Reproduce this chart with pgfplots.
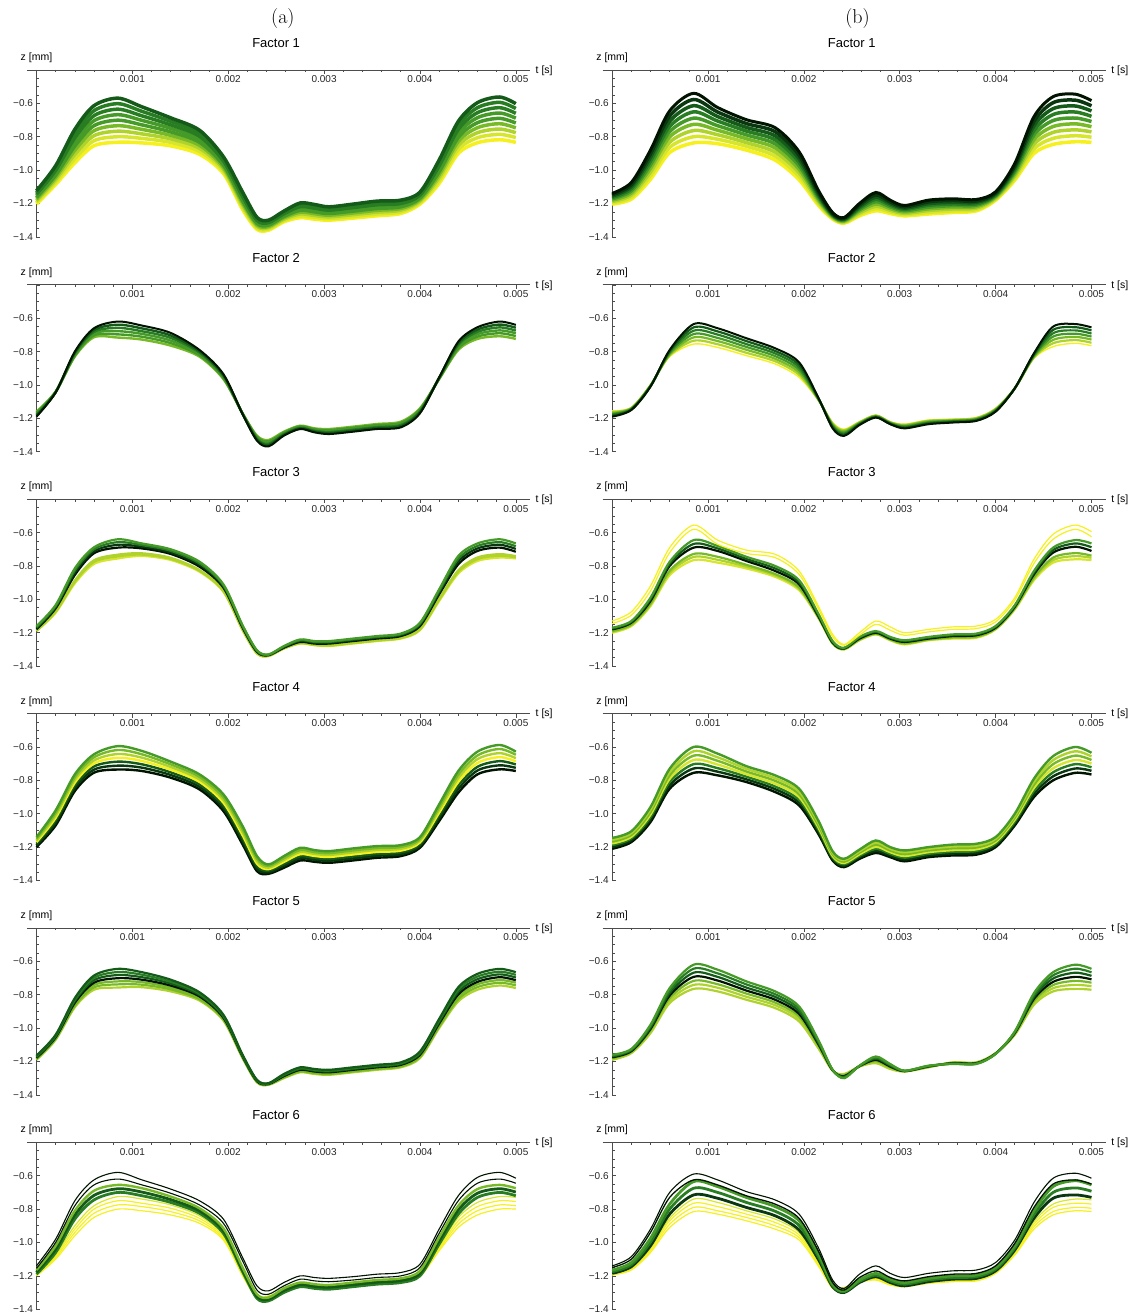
\documentclass[border=0pt]{standalone}
\usepackage{fontspec}
\setsansfont{Liberation Sans}
\usepackage{pgfplots}
\usepackage{pgfplotstable}
\pgfplotsset{compat=1.18}

\definecolor{Y0}{RGB}{245,240,30}
\definecolor{YG1}{RGB}{215,230,45}
\definecolor{YG}{RGB}{175,210,45}
\definecolor{LG}{RGB}{120,185,40}
\definecolor{G}{RGB}{70,155,40}
\definecolor{MG}{RGB}{40,125,35}
\definecolor{DG}{RGB}{20,90,25}
\definecolor{VDG}{RGB}{10,55,15}
\definecolor{BK}{RGB}{0,20,0}

\pgfplotsset{
  panel/.style={
    scale only axis, width=494pt, height=167pt,
    xmin=0, xmax=5.15, ymin=-1.4, ymax=-0.4,
    axis x line*=top, axis y line*=left,
    axis line style={line width=0.7pt, black!70},
    xtick={0,1,2,3,4,5},
    xticklabels={,0.001,0.002,0.003,0.004,0.005},
    minor x tick num=4,
    ytick={-1.4,-1.2,-1.0,-0.8,-0.6,-0.4},
    yticklabels={−1.4,−1.2,−1.0,−0.8,−0.6,},
    minor y tick num=3,
    tick align=inside,
    major tick length=4pt, minor tick length=2.5pt,
    tick style={black!70, line width=0.6pt},
    tick label style={font=\sffamily\fontsize{10}{12}\selectfont, text=black!85},
    xticklabel style={anchor=north, yshift=-2.5pt},
    clip=false,
    title style={at={(axis description cs:0.4854,1)}, anchor=base, yshift=16.5pt, font=\sffamily\fontsize{13}{15}\selectfont},
    after end axis/.code={
      \draw[line width=0.7pt, black!70] (axis cs:-0.1,-0.4) -- (axis cs:0,-0.4);
      \node[anchor=base, yshift=9.5pt, font=\sffamily\fontsize{10.5}{12}\selectfont] at (axis cs:0,-0.4) {z [mm]};
      \node[anchor=west, xshift=2pt, yshift=-0.5pt, font=\sffamily\fontsize{10.5}{12}\selectfont] at (axis cs:5.15,-0.4) {t [s]};
    },
  },
  cv/.style={smooth, tension=0.5, line width=2.2pt},
}
\newcommand{\pl}[3]{\addplot[cv,#1] table[x=t,y=#2]{#3};}

% ---------- Factor 1 (a)
\pgfplotstableread{
t c0 c1 c2 c3 c4 c5 c6 c7 c8
0 -1.204 -1.194 -1.184 -1.174 -1.164 -1.154 -1.144 -1.134 -1.124
0.2 -1.086 -1.072 -1.058 -1.044 -1.030 -1.016 -1.002 -0.988 -0.974
0.4 -0.956 -0.931 -0.906 -0.881 -0.856 -0.831 -0.806 -0.781 -0.756
0.6 -0.854 -0.824 -0.794 -0.764 -0.734 -0.704 -0.674 -0.644 -0.614
0.85 -0.833 -0.800 -0.767 -0.734 -0.701 -0.668 -0.635 -0.602 -0.569
1.1 -0.837 -0.810 -0.783 -0.756 -0.729 -0.702 -0.675 -0.648 -0.621
1.4 -0.855 -0.834 -0.813 -0.792 -0.771 -0.750 -0.729 -0.708 -0.687
1.7 -0.905 -0.887 -0.869 -0.851 -0.833 -0.815 -0.797 -0.779 -0.761
1.95 -1.020 -1.008 -0.995 -0.983 -0.970 -0.958 -0.945 -0.933 -0.920
2.15 -1.236 -1.223 -1.210 -1.197 -1.184 -1.171 -1.158 -1.145 -1.132
2.3 -1.355 -1.346 -1.337 -1.328 -1.319 -1.310 -1.301 -1.292 -1.283
2.42 -1.360 -1.353 -1.345 -1.338 -1.330 -1.323 -1.315 -1.308 -1.300
2.58 -1.310 -1.302 -1.294 -1.286 -1.278 -1.270 -1.262 -1.254 -1.246
2.75 -1.285 -1.274 -1.263 -1.252 -1.241 -1.230 -1.219 -1.208 -1.197
2.9 -1.294 -1.283 -1.272 -1.261 -1.250 -1.239 -1.228 -1.217 -1.206
3.05 -1.300 -1.290 -1.280 -1.270 -1.260 -1.250 -1.240 -1.230 -1.220
3.3 -1.288 -1.278 -1.267 -1.257 -1.246 -1.236 -1.225 -1.215 -1.204
3.55 -1.274 -1.263 -1.252 -1.241 -1.230 -1.219 -1.208 -1.197 -1.186
3.8 -1.260 -1.250 -1.240 -1.230 -1.220 -1.210 -1.200 -1.190 -1.180
4.0 -1.204 -1.195 -1.186 -1.177 -1.168 -1.159 -1.150 -1.141 -1.132
4.2 -1.080 -1.063 -1.045 -1.028 -1.010 -0.993 -0.975 -0.958 -0.940
4.4 -0.900 -0.876 -0.852 -0.828 -0.804 -0.780 -0.756 -0.732 -0.708
4.6 -0.836 -0.806 -0.776 -0.746 -0.716 -0.686 -0.656 -0.626 -0.596
4.83 -0.818 -0.786 -0.754 -0.722 -0.690 -0.658 -0.626 -0.594 -0.562
5.0 -0.834 -0.805 -0.776 -0.747 -0.718 -0.689 -0.660 -0.631 -0.602
}\TAa
% ---------- Factor 1 (b)
\pgfplotstableread{
t c0 c1 c2 c3 c4 c5 c6 c7 c8
0 -1.204 -1.196 -1.188 -1.180 -1.172 -1.164 -1.156 -1.148 -1.140
0.2 -1.174 -1.162 -1.149 -1.137 -1.124 -1.112 -1.099 -1.087 -1.074
0.4 -1.055 -1.033 -1.011 -0.989 -0.968 -0.946 -0.924 -0.902 -0.880
0.6 -0.895 -0.864 -0.833 -0.801 -0.770 -0.739 -0.708 -0.676 -0.645
0.85 -0.837 -0.800 -0.763 -0.726 -0.689 -0.651 -0.614 -0.577 -0.540
1.1 -0.842 -0.815 -0.788 -0.761 -0.734 -0.706 -0.679 -0.652 -0.625
1.4 -0.880 -0.857 -0.835 -0.812 -0.789 -0.766 -0.744 -0.721 -0.698
1.7 -0.940 -0.916 -0.892 -0.867 -0.843 -0.819 -0.795 -0.770 -0.746
1.95 -1.058 -1.037 -1.016 -0.995 -0.974 -0.953 -0.932 -0.911 -0.890
2.15 -1.210 -1.199 -1.188 -1.176 -1.165 -1.154 -1.143 -1.131 -1.120
2.3 -1.293 -1.288 -1.284 -1.279 -1.274 -1.269 -1.265 -1.260 -1.255
2.42 -1.318 -1.314 -1.310 -1.305 -1.301 -1.297 -1.293 -1.288 -1.284
2.58 -1.274 -1.265 -1.256 -1.246 -1.237 -1.228 -1.219 -1.209 -1.200
2.75 -1.244 -1.230 -1.217 -1.203 -1.189 -1.175 -1.162 -1.148 -1.134
2.9 -1.260 -1.250 -1.240 -1.230 -1.220 -1.210 -1.200 -1.190 -1.180
3.05 -1.274 -1.266 -1.259 -1.251 -1.243 -1.235 -1.228 -1.220 -1.212
3.3 -1.263 -1.253 -1.242 -1.232 -1.222 -1.211 -1.201 -1.190 -1.180
3.55 -1.254 -1.244 -1.233 -1.223 -1.213 -1.203 -1.193 -1.182 -1.172
3.8 -1.244 -1.236 -1.227 -1.219 -1.210 -1.202 -1.193 -1.185 -1.176
4.0 -1.180 -1.174 -1.168 -1.161 -1.155 -1.149 -1.143 -1.136 -1.130
4.2 -1.060 -1.048 -1.035 -1.023 -1.010 -0.998 -0.985 -0.973 -0.960
4.4 -0.900 -0.873 -0.845 -0.818 -0.790 -0.763 -0.735 -0.708 -0.680
4.6 -0.846 -0.810 -0.774 -0.739 -0.703 -0.667 -0.632 -0.596 -0.560
4.83 -0.830 -0.794 -0.759 -0.723 -0.688 -0.652 -0.616 -0.581 -0.545
5.0 -0.834 -0.803 -0.771 -0.740 -0.709 -0.678 -0.646 -0.615 -0.584
}\TAb
% ---------- Factor 2 (a)
\pgfplotstableread{
t c0 c1 c2 c3 c4 c5
0 -1.160 -1.166 -1.172 -1.178 -1.184 -1.190
0.2 -1.040 -1.041 -1.042 -1.043 -1.044 -1.045
0.4 -0.830 -0.824 -0.818 -0.812 -0.806 -0.800
0.6 -0.714 -0.703 -0.692 -0.682 -0.671 -0.660
0.85 -0.716 -0.697 -0.678 -0.658 -0.639 -0.620
1.1 -0.728 -0.711 -0.694 -0.678 -0.661 -0.644
1.4 -0.764 -0.749 -0.734 -0.718 -0.703 -0.688
1.7 -0.830 -0.822 -0.814 -0.806 -0.798 -0.790
1.95 -0.965 -0.959 -0.953 -0.947 -0.941 -0.935
2.15 -1.170 -1.171 -1.172 -1.173 -1.174 -1.175
2.3 -1.304 -1.310 -1.316 -1.322 -1.328 -1.334
2.42 -1.330 -1.338 -1.345 -1.353 -1.360 -1.368
2.58 -1.280 -1.285 -1.290 -1.294 -1.299 -1.304
2.75 -1.244 -1.248 -1.252 -1.256 -1.260 -1.264
2.9 -1.260 -1.265 -1.270 -1.274 -1.279 -1.284
3.05 -1.264 -1.270 -1.276 -1.282 -1.288 -1.294
3.3 -1.250 -1.256 -1.262 -1.268 -1.274 -1.280
3.55 -1.234 -1.240 -1.246 -1.252 -1.258 -1.264
3.8 -1.220 -1.227 -1.234 -1.240 -1.247 -1.254
4.0 -1.140 -1.146 -1.152 -1.158 -1.164 -1.170
4.2 -0.965 -0.963 -0.961 -0.959 -0.957 -0.955
4.4 -0.790 -0.780 -0.770 -0.760 -0.750 -0.740
4.6 -0.724 -0.710 -0.696 -0.682 -0.668 -0.654
4.83 -0.708 -0.690 -0.673 -0.655 -0.638 -0.620
5.0 -0.724 -0.707 -0.690 -0.674 -0.657 -0.640
}\TBa
% ---------- Factor 2 (b)
\pgfplotstableread{
t c0 c1 c2 c3 c4 c5 c6
0 -1.155 -1.161 -1.167 -1.173 -1.178 -1.184 -1.190
0.2 -1.135 -1.138 -1.140 -1.143 -1.145 -1.148 -1.150
0.4 -1.000 -1.002 -1.003 -1.005 -1.007 -1.008 -1.010
0.6 -0.830 -0.823 -0.817 -0.810 -0.803 -0.797 -0.790
0.85 -0.755 -0.735 -0.715 -0.695 -0.675 -0.655 -0.635
1.1 -0.775 -0.756 -0.737 -0.718 -0.698 -0.679 -0.660
1.4 -0.824 -0.807 -0.789 -0.772 -0.755 -0.737 -0.720
1.7 -0.874 -0.858 -0.843 -0.827 -0.811 -0.796 -0.780
1.95 -0.954 -0.939 -0.924 -0.909 -0.894 -0.879 -0.864
2.15 -1.090 -1.088 -1.085 -1.083 -1.080 -1.078 -1.075
2.3 -1.225 -1.231 -1.237 -1.243 -1.248 -1.254 -1.260
2.42 -1.265 -1.272 -1.278 -1.285 -1.292 -1.298 -1.305
2.58 -1.220 -1.223 -1.227 -1.230 -1.233 -1.237 -1.240
2.75 -1.180 -1.183 -1.185 -1.188 -1.190 -1.193 -1.195
2.9 -1.220 -1.223 -1.225 -1.228 -1.230 -1.233 -1.235
3.05 -1.235 -1.239 -1.243 -1.248 -1.252 -1.256 -1.260
3.3 -1.210 -1.214 -1.218 -1.223 -1.227 -1.231 -1.235
3.55 -1.205 -1.208 -1.212 -1.215 -1.218 -1.222 -1.225
3.8 -1.195 -1.198 -1.202 -1.205 -1.208 -1.212 -1.215
4.0 -1.140 -1.143 -1.147 -1.150 -1.153 -1.157 -1.160
4.2 -1.020 -1.020 -1.020 -1.020 -1.020 -1.020 -1.020
4.4 -0.840 -0.835 -0.830 -0.825 -0.820 -0.815 -0.810
4.6 -0.770 -0.750 -0.730 -0.710 -0.690 -0.670 -0.650
4.83 -0.750 -0.731 -0.712 -0.693 -0.673 -0.654 -0.635
5.0 -0.765 -0.747 -0.728 -0.710 -0.692 -0.673 -0.655
}\TBb
% ---------- Factor 3 (a)
\pgfplotstableread{
t c0 c1 c2 c3 c4 c5 c6
0 -1.190 -1.188 -1.187 -1.180 -1.173 -1.167 -1.160
0.2 -1.080 -1.075 -1.071 -1.054 -1.047 -1.041 -1.034
0.4 -0.904 -0.895 -0.887 -0.854 -0.841 -0.827 -0.814
0.6 -0.788 -0.776 -0.766 -0.724 -0.712 -0.700 -0.688
0.85 -0.755 -0.743 -0.732 -0.690 -0.673 -0.657 -0.640
1.1 -0.740 -0.732 -0.724 -0.695 -0.685 -0.675 -0.665
1.4 -0.764 -0.758 -0.751 -0.728 -0.719 -0.709 -0.700
1.7 -0.834 -0.829 -0.824 -0.804 -0.794 -0.784 -0.774
1.95 -0.955 -0.951 -0.946 -0.930 -0.923 -0.917 -0.910
2.15 -1.185 -1.182 -1.180 -1.170 -1.165 -1.160 -1.155
2.3 -1.325 -1.323 -1.322 -1.315 -1.312 -1.308 -1.305
2.42 -1.340 -1.339 -1.338 -1.335 -1.333 -1.332 -1.330
2.58 -1.295 -1.294 -1.293 -1.290 -1.287 -1.283 -1.280
2.75 -1.265 -1.263 -1.262 -1.255 -1.250 -1.245 -1.240
2.9 -1.275 -1.273 -1.272 -1.265 -1.260 -1.255 -1.250
3.05 -1.280 -1.277 -1.275 -1.265 -1.260 -1.255 -1.250
3.3 -1.265 -1.262 -1.260 -1.250 -1.245 -1.240 -1.235
3.55 -1.250 -1.247 -1.245 -1.235 -1.230 -1.225 -1.220
3.8 -1.235 -1.232 -1.230 -1.220 -1.215 -1.210 -1.205
4.0 -1.185 -1.181 -1.176 -1.160 -1.153 -1.147 -1.140
4.2 -1.010 -1.003 -0.996 -0.970 -0.960 -0.950 -0.940
4.4 -0.845 -0.835 -0.826 -0.790 -0.773 -0.757 -0.740
4.6 -0.770 -0.759 -0.749 -0.710 -0.695 -0.680 -0.665
4.83 -0.750 -0.739 -0.729 -0.690 -0.673 -0.657 -0.640
5.0 -0.755 -0.748 -0.741 -0.715 -0.698 -0.682 -0.665
}\TCa
% ---------- Factor 3 (b)
\pgfplotstableread{
t c0 c1 c2 c3 c4 c5 c6 c7
0 -1.200 -1.195 -1.190 -1.180 -1.175 -1.170 -1.145 -1.130
0.2 -1.160 -1.155 -1.150 -1.140 -1.135 -1.130 -1.095 -1.075
0.4 -1.040 -1.033 -1.025 -1.010 -1.000 -0.990 -0.950 -0.920
0.6 -0.855 -0.841 -0.828 -0.800 -0.788 -0.775 -0.720 -0.690
0.85 -0.765 -0.746 -0.728 -0.690 -0.668 -0.645 -0.580 -0.555
1.1 -0.780 -0.763 -0.745 -0.710 -0.695 -0.680 -0.670 -0.645
1.4 -0.815 -0.804 -0.793 -0.770 -0.758 -0.745 -0.725 -0.705
1.7 -0.865 -0.856 -0.848 -0.830 -0.815 -0.800 -0.750 -0.730
1.95 -0.945 -0.936 -0.928 -0.910 -0.898 -0.885 -0.850 -0.830
2.15 -1.110 -1.108 -1.105 -1.100 -1.093 -1.085 -1.055 -1.040
2.3 -1.265 -1.264 -1.263 -1.260 -1.255 -1.250 -1.225 -1.210
2.42 -1.300 -1.299 -1.298 -1.295 -1.293 -1.290 -1.275 -1.270
2.58 -1.245 -1.243 -1.240 -1.235 -1.230 -1.225 -1.215 -1.200
2.75 -1.210 -1.208 -1.205 -1.200 -1.195 -1.190 -1.150 -1.130
2.9 -1.245 -1.243 -1.240 -1.235 -1.230 -1.225 -1.185 -1.165
3.05 -1.270 -1.266 -1.263 -1.255 -1.250 -1.245 -1.215 -1.200
3.3 -1.245 -1.243 -1.240 -1.235 -1.230 -1.225 -1.195 -1.180
3.55 -1.235 -1.231 -1.228 -1.220 -1.215 -1.210 -1.180 -1.165
3.8 -1.230 -1.226 -1.223 -1.215 -1.210 -1.205 -1.175 -1.160
4.0 -1.180 -1.178 -1.175 -1.170 -1.165 -1.160 -1.135 -1.120
4.2 -1.060 -1.056 -1.053 -1.045 -1.040 -1.035 -1.005 -0.990
4.4 -0.885 -0.876 -0.868 -0.850 -0.840 -0.830 -0.785 -0.760
4.6 -0.780 -0.765 -0.750 -0.720 -0.705 -0.690 -0.640 -0.610
4.83 -0.760 -0.741 -0.723 -0.685 -0.665 -0.645 -0.580 -0.555
5.0 -0.765 -0.751 -0.738 -0.710 -0.688 -0.665 -0.625 -0.595
}\TCb
% ---------- Factor 4 (a)
\pgfplotstableread{
t c0 c1 c2 c3 c4 c5 c6
0 -1.200 -1.190 -1.180 -1.170 -1.160 -1.150 -1.140
0.2 -1.070 -1.055 -1.040 -1.025 -1.010 -0.995 -0.980
0.4 -0.864 -0.847 -0.831 -0.814 -0.797 -0.781 -0.764
0.6 -0.754 -0.736 -0.717 -0.699 -0.681 -0.662 -0.644
0.85 -0.735 -0.712 -0.688 -0.665 -0.642 -0.618 -0.595
1.1 -0.744 -0.724 -0.704 -0.684 -0.664 -0.644 -0.624
1.4 -0.784 -0.768 -0.752 -0.736 -0.720 -0.704 -0.688
1.7 -0.854 -0.839 -0.824 -0.809 -0.794 -0.779 -0.764
1.95 -0.984 -0.967 -0.951 -0.934 -0.917 -0.901 -0.884
2.15 -1.184 -1.166 -1.147 -1.129 -1.111 -1.092 -1.074
2.3 -1.344 -1.329 -1.314 -1.299 -1.284 -1.269 -1.254
2.42 -1.360 -1.351 -1.341 -1.332 -1.323 -1.313 -1.304
2.58 -1.324 -1.312 -1.301 -1.289 -1.277 -1.266 -1.254
2.75 -1.280 -1.267 -1.255 -1.242 -1.229 -1.217 -1.204
2.9 -1.288 -1.276 -1.265 -1.253 -1.241 -1.230 -1.218
3.05 -1.294 -1.282 -1.271 -1.259 -1.247 -1.236 -1.224
3.3 -1.280 -1.268 -1.256 -1.244 -1.232 -1.220 -1.208
3.55 -1.264 -1.252 -1.241 -1.229 -1.217 -1.206 -1.194
3.8 -1.254 -1.243 -1.232 -1.221 -1.210 -1.199 -1.188
4.0 -1.204 -1.193 -1.183 -1.172 -1.161 -1.151 -1.140
4.2 -1.044 -1.027 -1.011 -0.994 -0.977 -0.961 -0.944
4.4 -0.874 -0.852 -0.831 -0.809 -0.787 -0.766 -0.744
4.6 -0.764 -0.741 -0.719 -0.696 -0.673 -0.651 -0.628
4.83 -0.734 -0.710 -0.685 -0.661 -0.637 -0.612 -0.588
5.0 -0.744 -0.725 -0.705 -0.686 -0.667 -0.647 -0.628
}\TDa
% ---------- Factor 4 (b)
\pgfplotstableread{
t c0 c1 c2 c3 c4 c5 c6
0 -1.210 -1.199 -1.188 -1.178 -1.167 -1.156 -1.145
0.2 -1.170 -1.159 -1.148 -1.138 -1.127 -1.116 -1.105
0.4 -1.050 -1.035 -1.020 -1.005 -0.990 -0.975 -0.960
0.6 -0.850 -0.830 -0.810 -0.790 -0.770 -0.750 -0.730
0.85 -0.755 -0.729 -0.703 -0.678 -0.652 -0.626 -0.600
1.1 -0.770 -0.748 -0.727 -0.705 -0.683 -0.662 -0.640
1.4 -0.810 -0.794 -0.778 -0.763 -0.747 -0.731 -0.715
1.7 -0.870 -0.853 -0.837 -0.820 -0.803 -0.787 -0.770
1.95 -0.950 -0.933 -0.917 -0.900 -0.883 -0.867 -0.850
2.15 -1.120 -1.107 -1.093 -1.080 -1.067 -1.053 -1.040
2.3 -1.280 -1.271 -1.262 -1.253 -1.243 -1.234 -1.225
2.42 -1.320 -1.312 -1.303 -1.295 -1.287 -1.278 -1.270
2.58 -1.270 -1.261 -1.252 -1.243 -1.233 -1.224 -1.215
2.75 -1.235 -1.223 -1.210 -1.198 -1.185 -1.173 -1.160
2.9 -1.260 -1.250 -1.240 -1.230 -1.220 -1.210 -1.200
3.05 -1.285 -1.274 -1.263 -1.253 -1.242 -1.231 -1.220
3.3 -1.260 -1.250 -1.240 -1.230 -1.220 -1.210 -1.200
3.55 -1.250 -1.239 -1.228 -1.218 -1.207 -1.196 -1.185
3.8 -1.245 -1.234 -1.223 -1.213 -1.202 -1.191 -1.180
4.0 -1.200 -1.190 -1.180 -1.170 -1.160 -1.150 -1.140
4.2 -1.070 -1.058 -1.047 -1.035 -1.023 -1.012 -1.000
4.4 -0.900 -0.882 -0.863 -0.845 -0.827 -0.808 -0.790
4.6 -0.800 -0.776 -0.752 -0.728 -0.703 -0.679 -0.655
4.83 -0.755 -0.729 -0.703 -0.678 -0.652 -0.626 -0.600
5.0 -0.765 -0.743 -0.722 -0.700 -0.678 -0.657 -0.635
}\TDb
% ---------- Factor 5 (a)
\pgfplotstableread{
t c0 c1 c2 c3 c4 c5 c6
0 -1.190 -1.186 -1.182 -1.178 -1.173 -1.169 -1.165
0.2 -1.070 -1.065 -1.060 -1.055 -1.050 -1.045 -1.040
0.4 -0.875 -0.866 -0.857 -0.848 -0.838 -0.829 -0.820
0.6 -0.770 -0.756 -0.742 -0.728 -0.713 -0.699 -0.685
0.85 -0.757 -0.738 -0.720 -0.701 -0.682 -0.664 -0.645
1.1 -0.755 -0.740 -0.725 -0.710 -0.695 -0.680 -0.665
1.4 -0.780 -0.768 -0.757 -0.745 -0.733 -0.722 -0.710
1.7 -0.835 -0.827 -0.818 -0.810 -0.802 -0.793 -0.785
1.95 -0.955 -0.949 -0.943 -0.938 -0.932 -0.926 -0.920
2.15 -1.180 -1.177 -1.173 -1.170 -1.167 -1.163 -1.160
2.3 -1.325 -1.323 -1.320 -1.318 -1.315 -1.313 -1.310
2.42 -1.340 -1.338 -1.337 -1.335 -1.333 -1.332 -1.330
2.58 -1.300 -1.296 -1.292 -1.288 -1.283 -1.279 -1.275
2.75 -1.265 -1.260 -1.255 -1.250 -1.245 -1.240 -1.235
2.9 -1.275 -1.270 -1.265 -1.260 -1.255 -1.250 -1.245
3.05 -1.280 -1.275 -1.270 -1.265 -1.260 -1.255 -1.250
3.3 -1.265 -1.260 -1.255 -1.250 -1.245 -1.240 -1.235
3.55 -1.250 -1.245 -1.240 -1.235 -1.230 -1.225 -1.220
3.8 -1.235 -1.230 -1.225 -1.220 -1.215 -1.210 -1.205
4.0 -1.180 -1.173 -1.167 -1.160 -1.153 -1.147 -1.140
4.2 -1.000 -0.991 -0.982 -0.973 -0.963 -0.954 -0.945
4.4 -0.840 -0.826 -0.812 -0.798 -0.783 -0.769 -0.755
4.6 -0.770 -0.754 -0.738 -0.723 -0.707 -0.691 -0.675
4.83 -0.745 -0.728 -0.712 -0.695 -0.678 -0.662 -0.645
5.0 -0.760 -0.744 -0.728 -0.713 -0.697 -0.681 -0.665
}\TEa
% ---------- Factor 5 (b)
\pgfplotstableread{
t c0 c1 c2 c3 c4 c5 c6
0 -1.190 -1.185 -1.180 -1.175 -1.170 -1.165 -1.160
0.2 -1.150 -1.146 -1.142 -1.138 -1.133 -1.129 -1.125
0.4 -1.030 -1.022 -1.013 -1.005 -0.997 -0.988 -0.980
0.6 -0.850 -0.835 -0.820 -0.805 -0.790 -0.775 -0.760
0.85 -0.765 -0.741 -0.717 -0.693 -0.668 -0.644 -0.620
1.1 -0.780 -0.758 -0.737 -0.715 -0.693 -0.672 -0.650
1.4 -0.830 -0.812 -0.793 -0.775 -0.757 -0.738 -0.720
1.7 -0.880 -0.863 -0.847 -0.830 -0.813 -0.797 -0.780
1.95 -0.960 -0.945 -0.930 -0.915 -0.900 -0.885 -0.870
2.15 -1.120 -1.112 -1.103 -1.095 -1.087 -1.078 -1.070
2.3 -1.255 -1.254 -1.253 -1.253 -1.252 -1.251 -1.250
2.42 -1.275 -1.279 -1.283 -1.288 -1.292 -1.296 -1.300
2.58 -1.230 -1.229 -1.228 -1.228 -1.227 -1.226 -1.225
2.75 -1.210 -1.203 -1.197 -1.190 -1.183 -1.177 -1.170
2.9 -1.245 -1.240 -1.235 -1.230 -1.225 -1.220 -1.215
3.05 -1.260 -1.259 -1.258 -1.258 -1.257 -1.256 -1.255
3.3 -1.235 -1.233 -1.232 -1.230 -1.228 -1.227 -1.225
3.55 -1.205 -1.207 -1.208 -1.210 -1.212 -1.213 -1.215
3.8 -1.205 -1.207 -1.208 -1.210 -1.212 -1.213 -1.215
4.0 -1.150 -1.151 -1.152 -1.153 -1.153 -1.154 -1.155
4.2 -1.040 -1.037 -1.033 -1.030 -1.027 -1.023 -1.020
4.4 -0.860 -0.848 -0.837 -0.825 -0.813 -0.802 -0.790
4.6 -0.780 -0.761 -0.742 -0.723 -0.703 -0.684 -0.665
4.83 -0.765 -0.741 -0.717 -0.693 -0.668 -0.644 -0.620
5.0 -0.770 -0.749 -0.728 -0.708 -0.687 -0.666 -0.645
}\TEb
% ---------- Factor 6 (a)
\pgfplotstableread{
t c0 c1 c2 c3 c4 c5 c6 c7 c8
0 -1.200 -1.197 -1.193 -1.190 -1.190 -1.178 -1.165 -1.155 -1.140
0.2 -1.100 -1.090 -1.080 -1.070 -1.060 -1.040 -1.020 -1.000 -0.980
0.4 -0.960 -0.940 -0.920 -0.900 -0.860 -0.835 -0.810 -0.780 -0.750
0.6 -0.850 -0.825 -0.800 -0.780 -0.745 -0.718 -0.690 -0.655 -0.625
0.85 -0.800 -0.775 -0.750 -0.725 -0.700 -0.678 -0.655 -0.620 -0.580
1.1 -0.810 -0.785 -0.765 -0.740 -0.720 -0.698 -0.675 -0.655 -0.625
1.4 -0.835 -0.815 -0.795 -0.775 -0.760 -0.743 -0.725 -0.705 -0.680
1.7 -0.885 -0.870 -0.855 -0.840 -0.825 -0.810 -0.795 -0.775 -0.750
1.95 -0.985 -0.975 -0.965 -0.955 -0.945 -0.930 -0.915 -0.885 -0.860
2.15 -1.200 -1.190 -1.185 -1.180 -1.175 -1.163 -1.150 -1.110 -1.090
2.3 -1.335 -1.330 -1.325 -1.320 -1.335 -1.323 -1.310 -1.285 -1.260
2.42 -1.335 -1.330 -1.325 -1.320 -1.350 -1.340 -1.330 -1.310 -1.290
2.58 -1.295 -1.292 -1.288 -1.285 -1.300 -1.288 -1.275 -1.260 -1.240
2.75 -1.260 -1.255 -1.250 -1.245 -1.265 -1.253 -1.240 -1.220 -1.200
2.9 -1.270 -1.265 -1.260 -1.255 -1.275 -1.263 -1.250 -1.230 -1.210
3.05 -1.270 -1.267 -1.263 -1.260 -1.280 -1.268 -1.255 -1.235 -1.215
3.3 -1.260 -1.255 -1.250 -1.245 -1.265 -1.253 -1.240 -1.225 -1.205
3.55 -1.245 -1.240 -1.235 -1.230 -1.250 -1.238 -1.225 -1.210 -1.190
3.8 -1.235 -1.230 -1.225 -1.220 -1.240 -1.228 -1.215 -1.200 -1.180
4.0 -1.205 -1.200 -1.195 -1.190 -1.200 -1.185 -1.170 -1.150 -1.130
4.2 -1.050 -1.040 -1.030 -1.020 -1.010 -0.990 -0.970 -0.945 -0.920
4.4 -0.910 -0.890 -0.870 -0.850 -0.830 -0.805 -0.780 -0.750 -0.720
4.6 -0.835 -0.810 -0.785 -0.760 -0.730 -0.705 -0.680 -0.645 -0.610
4.83 -0.800 -0.775 -0.750 -0.725 -0.700 -0.678 -0.655 -0.620 -0.580
5.0 -0.800 -0.780 -0.755 -0.730 -0.720 -0.698 -0.675 -0.645 -0.615
}\TFa
% ---------- Factor 6 (b)
\pgfplotstableread{
t c0 c1 c2 c3 c4 c5 c6 c7 c8
0 -1.195 -1.192 -1.188 -1.185 -1.185 -1.175 -1.165 -1.150 -1.140
0.2 -1.165 -1.160 -1.155 -1.150 -1.145 -1.133 -1.120 -1.100 -1.085
0.4 -1.060 -1.050 -1.040 -1.030 -1.020 -0.998 -0.975 -0.940 -0.920
0.6 -0.910 -0.890 -0.870 -0.855 -0.830 -0.800 -0.770 -0.730 -0.700
0.85 -0.815 -0.790 -0.765 -0.740 -0.715 -0.675 -0.635 -0.625 -0.590
1.1 -0.830 -0.810 -0.785 -0.760 -0.735 -0.700 -0.665 -0.655 -0.625
1.4 -0.870 -0.850 -0.830 -0.810 -0.790 -0.760 -0.730 -0.720 -0.695
1.7 -0.920 -0.900 -0.880 -0.860 -0.840 -0.813 -0.785 -0.770 -0.745
1.95 -0.985 -0.970 -0.955 -0.940 -0.925 -0.898 -0.870 -0.855 -0.830
2.15 -1.140 -1.130 -1.120 -1.110 -1.100 -1.083 -1.065 -1.050 -1.030
2.3 -1.275 -1.272 -1.268 -1.265 -1.265 -1.258 -1.250 -1.240 -1.225
2.42 -1.285 -1.280 -1.275 -1.270 -1.300 -1.295 -1.290 -1.285 -1.275
2.58 -1.240 -1.237 -1.233 -1.230 -1.240 -1.233 -1.225 -1.210 -1.190
2.75 -1.225 -1.220 -1.215 -1.210 -1.205 -1.195 -1.185 -1.170 -1.140
2.9 -1.255 -1.252 -1.248 -1.245 -1.240 -1.230 -1.220 -1.210 -1.185
3.05 -1.265 -1.263 -1.262 -1.260 -1.260 -1.250 -1.240 -1.230 -1.210
3.3 -1.245 -1.242 -1.238 -1.235 -1.235 -1.225 -1.215 -1.205 -1.185
3.55 -1.235 -1.232 -1.228 -1.225 -1.220 -1.210 -1.200 -1.190 -1.170
3.8 -1.230 -1.227 -1.223 -1.220 -1.215 -1.205 -1.195 -1.185 -1.165
4.0 -1.185 -1.182 -1.178 -1.175 -1.170 -1.160 -1.150 -1.140 -1.120
4.2 -1.075 -1.070 -1.060 -1.055 -1.045 -1.033 -1.020 -1.005 -0.985
4.4 -0.920 -0.905 -0.890 -0.875 -0.855 -0.833 -0.810 -0.790 -0.760
4.6 -0.835 -0.815 -0.790 -0.770 -0.735 -0.700 -0.665 -0.650 -0.615
4.83 -0.810 -0.790 -0.765 -0.740 -0.715 -0.673 -0.630 -0.625 -0.585
5.0 -0.815 -0.795 -0.770 -0.745 -0.730 -0.693 -0.655 -0.650 -0.615
}\TFb

\begin{document}
\begin{tikzpicture}
\path (0,0) rectangle (1141pt,-1316pt);
\node[font=\fontsize{20}{24}\selectfont] at (283pt,-19pt) {(a)};
\node[font=\fontsize{20}{24}\selectfont] at (858pt,-19pt) {(b)};

% Row 1
\begin{axis}[panel, at={(36.5pt,-70pt)}, anchor=north west, title={Factor 1}]
\pl{Y0,line width=3.5pt}{c0}{\TAa}\pl{YG1,line width=3.5pt}{c1}{\TAa}\pl{YG,line width=3.5pt}{c2}{\TAa}
\pl{LG,line width=3.5pt}{c3}{\TAa}\pl{G,line width=3.5pt}{c4}{\TAa}\pl{G,line width=3.5pt}{c5}{\TAa}
\pl{MG,line width=3.5pt}{c6}{\TAa}\pl{MG,line width=3.5pt}{c7}{\TAa}\pl{DG,line width=3.5pt}{c8}{\TAa}
\end{axis}
\begin{axis}[panel, at={(612.5pt,-70pt)}, anchor=north west, title={Factor 1}]
\pl{Y0,line width=3.5pt}{c0}{\TAb}\pl{YG1,line width=3.5pt}{c1}{\TAb}\pl{YG,line width=3.5pt}{c2}{\TAb}
\pl{LG,line width=3.5pt}{c3}{\TAb}\pl{G,line width=3.5pt}{c4}{\TAb}\pl{MG,line width=3.5pt}{c5}{\TAb}
\pl{DG,line width=3.5pt}{c6}{\TAb}\pl{VDG,line width=3.5pt}{c7}{\TAb}\pl{BK,line width=3pt}{c8}{\TAb}
\end{axis}

% Row 2
\begin{axis}[panel, at={(36.5pt,-285pt)}, anchor=north west, title={Factor 2}]
\pl{LG,line width=2.4pt}{c0}{\TBa}\pl{G,line width=2.4pt}{c1}{\TBa}\pl{G,line width=2.4pt}{c2}{\TBa}
\pl{MG,line width=2.4pt}{c3}{\TBa}\pl{DG,line width=2.4pt}{c4}{\TBa}\pl{BK,line width=2pt}{c5}{\TBa}
\end{axis}
\begin{axis}[panel, at={(612.5pt,-285pt)}, anchor=north west, title={Factor 2}]
\pl{Y0,line width=1.4pt}{c0}{\TBb}\pl{YG}{c1}{\TBb}\pl{LG}{c2}{\TBb}
\pl{G}{c3}{\TBb}\pl{MG}{c4}{\TBb}\pl{DG}{c5}{\TBb}\pl{BK,line width=2pt}{c6}{\TBb}
\end{axis}

% Row 3
\begin{axis}[panel, at={(36.5pt,-499.5pt)}, anchor=north west, title={Factor 3}]
\pl{YG1}{c0}{\TCa}\pl{YG}{c1}{\TCa}\pl{YG}{c2}{\TCa}
\pl{BK}{c3}{\TCa}\pl{VDG}{c4}{\TCa}\pl{MG}{c5}{\TCa}\pl{G}{c6}{\TCa}
\end{axis}
\begin{axis}[panel, at={(612.5pt,-499.5pt)}, anchor=north west, title={Factor 3}]
\pl{YG1}{c0}{\TCb}\pl{YG}{c1}{\TCb}\pl{LG}{c2}{\TCb}
\pl{BK}{c3}{\TCb}\pl{DG}{c4}{\TCb}\pl{G}{c5}{\TCb}
\pl{Y0,line width=1.2pt}{c6}{\TCb}\pl{Y0,line width=1.2pt}{c7}{\TCb}
\end{axis}

% Row 4
\begin{axis}[panel, at={(36.5pt,-714pt)}, anchor=north west, title={Factor 4}]
\pl{BK,line width=2.4pt}{c0}{\TDa}\pl{VDG,line width=2.4pt}{c1}{\TDa}\pl{DG,line width=2.4pt}{c2}{\TDa}
\pl{Y0,line width=2.4pt}{c3}{\TDa}\pl{YG,line width=2.4pt}{c4}{\TDa}\pl{LG,line width=2.4pt}{c5}{\TDa}
\pl{G,line width=2.4pt}{c6}{\TDa}
\end{axis}
\begin{axis}[panel, at={(612.5pt,-714pt)}, anchor=north west, title={Factor 4}]
\pl{BK,line width=2.4pt}{c0}{\TDb}\pl{VDG,line width=2.4pt}{c1}{\TDb}\pl{MG,line width=2.4pt}{c2}{\TDb}
\pl{YG1,line width=2.4pt}{c3}{\TDb}\pl{LG,line width=2.4pt}{c4}{\TDb}\pl{YG,line width=2.4pt}{c5}{\TDb}
\pl{G,line width=2.4pt}{c6}{\TDb}
\end{axis}

% Row 5
\begin{axis}[panel, at={(36.5pt,-928.5pt)}, anchor=north west, title={Factor 5}]
\pl{YG}{c0}{\TEa}\pl{LG}{c1}{\TEa}\pl{LG}{c2}{\TEa}
\pl{BK}{c3}{\TEa}\pl{DG}{c4}{\TEa}\pl{MG}{c5}{\TEa}\pl{DG}{c6}{\TEa}
\end{axis}
\begin{axis}[panel, at={(612.5pt,-928.5pt)}, anchor=north west, title={Factor 5}]
\pl{YG}{c0}{\TEb}\pl{YG}{c1}{\TEb}\pl{LG}{c2}{\TEb}
\pl{BK}{c3}{\TEb}\pl{DG}{c4}{\TEb}\pl{MG}{c5}{\TEb}\pl{G}{c6}{\TEb}
\end{axis}

% Row 6
\begin{axis}[panel, at={(36.5pt,-1143pt)}, anchor=north west, title={Factor 6}]
\pl{Y0,line width=1.2pt}{c0}{\TFa}\pl{Y0,line width=1.2pt}{c1}{\TFa}\pl{Y0,line width=1.2pt}{c2}{\TFa}
\pl{YG1,line width=1.2pt}{c3}{\TFa}\pl{MG,line width=2.8pt}{c4}{\TFa}\pl{DG,line width=2.8pt}{c5}{\TFa}
\pl{LG,line width=2.4pt}{c6}{\TFa}\pl{BK,line width=1.1pt}{c7}{\TFa}\pl{BK,line width=1.1pt}{c8}{\TFa}
\end{axis}
\begin{axis}[panel, at={(612.5pt,-1143pt)}, anchor=north west, title={Factor 6}]
\pl{Y0,line width=1.2pt}{c0}{\TFb}\pl{Y0,line width=1.2pt}{c1}{\TFb}\pl{Y0,line width=1.2pt}{c2}{\TFb}
\pl{YG1,line width=1.2pt}{c3}{\TFb}\pl{VDG,line width=2.8pt}{c4}{\TFb}\pl{MG,line width=2.8pt}{c5}{\TFb}
\pl{G,line width=2.8pt}{c6}{\TFb}\pl{BK,line width=1.3pt}{c7}{\TFb}\pl{BK,line width=1.1pt}{c8}{\TFb}
\end{axis}
\end{tikzpicture}
\end{document}
